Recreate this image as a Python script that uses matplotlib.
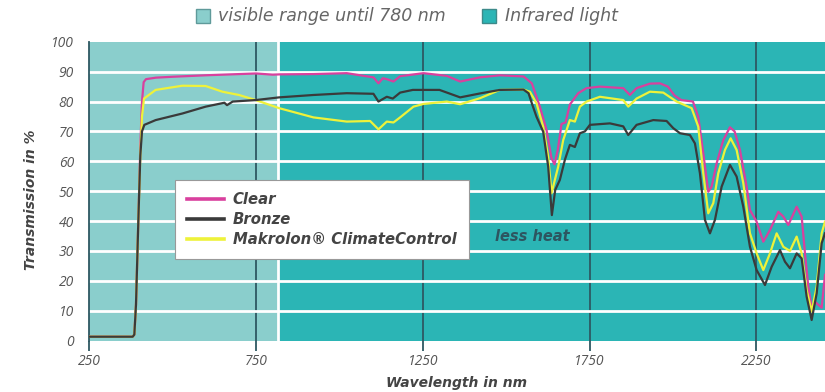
import matplotlib
matplotlib.use("Agg")
import matplotlib.pyplot as plt
from matplotlib.patches import Rectangle
from matplotlib.lines import Line2D

# ---------------- data ----------------
wl_clear = [250, 380, 385, 390, 397, 403, 408, 413, 420, 450, 500, 600, 700, 750, 800, 822,
            922, 1022, 1102, 1117, 1130, 1142, 1162, 1182, 1252, 1322, 1362, 1421, 1481, 1552,
            1577, 1601, 1621, 1636, 1645, 1655, 1666, 1678, 1691, 1716, 1741, 1781, 1851, 1871,
            1891, 1931, 1961, 1985, 2005, 2025, 2060, 2076, 2091, 2106, 2116, 2131, 2151, 2171,
            2185, 2201, 2221, 2231, 2251, 2271, 2291, 2316, 2331, 2346, 2371, 2386, 2396, 2406,
            2416, 2426, 2436, 2446, 2456]
t_clear = [1.3, 1.3, 2, 12, 40, 65, 80, 86.5, 87.5, 88, 88.3, 88.8, 89.2, 89.4, 89, 89.1,
           89.2, 89.5, 88.1, 86.1, 87.8, 87.5, 86.7, 88.5, 89.5, 88.6, 86.7, 88.1, 88.8, 88.4,
           86.1, 78.3, 70.5, 61, 59, 64, 72.5, 73, 79, 82.8, 84.5, 85, 84.5, 82.2,
           84.5, 86, 86.1, 85, 82, 80.5, 80, 74.9, 62.7, 49.8, 51.5, 59.3, 67.1, 71.4,
           70, 63.8, 51.5, 43.7, 39.8, 33.1, 37, 43.1, 41.5, 38.7, 44.8, 41.5, 29.2, 18,
           11, 13, 12, 11, 22]

wl_bronze = [250, 380, 385, 390, 397, 403, 408, 415, 449, 529, 599, 655, 663, 680, 749, 819,
             922, 1022, 1102, 1117, 1142, 1160, 1182, 1220, 1300, 1362, 1421, 1481, 1552, 1567,
             1577, 1591, 1611, 1626, 1637, 1647, 1661, 1676, 1691, 1706, 1721, 1736, 1751, 1811,
             1851, 1866, 1891, 1941, 1981, 2001, 2021, 2051, 2066, 2081, 2096, 2111, 2126, 2146,
             2171, 2191, 2211, 2231, 2251, 2276, 2296, 2321, 2336, 2351, 2371, 2386, 2401, 2416,
             2431, 2446, 2456]
t_bronze = [1.3, 1.3, 2, 12, 40, 62, 70, 72.2, 73.8, 76, 78.3, 79.6, 78.8, 80, 80.5, 81.4,
            82.2, 82.8, 82.6, 80, 81.6, 81, 83, 83.9, 83.9, 81.4, 82.7, 83.9, 84, 82.8,
            79.4, 74.9, 69.9, 58.2, 42, 50.4, 53.8, 60.5, 65.5, 64.8, 69.4, 70, 72.2, 72.7,
            71.7, 68.8, 72.2, 73.8, 73.5, 71.1, 69.4, 68.8, 66, 56, 40.4, 35.9, 40.4, 51.5,
            58.8, 54.9, 44.8, 31.4, 23.6, 18.6, 24.7, 30.3, 26.4, 24.2, 29.2, 27.5, 14.7, 6.9,
            15.8, 32.6, 35.9]

wl_cc = [250, 380, 385, 390, 397, 403, 408, 414, 449, 529, 599, 649, 699, 749, 819,
         922, 1022, 1092, 1117, 1142, 1162, 1182, 1222, 1252, 1322, 1362, 1421, 1481, 1552,
         1571, 1591, 1611, 1626, 1636, 1646, 1656, 1671, 1691, 1706, 1721, 1741, 1781, 1851,
         1866, 1891, 1931, 1971, 2011, 2056, 2076, 2091, 2106, 2121, 2136, 2156, 2173, 2191,
         2211, 2231, 2251, 2271, 2291, 2311, 2331, 2351, 2371, 2386, 2401, 2416, 2431, 2446, 2456]
t_cc = [1.3, 1.3, 2, 12, 40, 62, 75, 81, 83.9, 85.3, 85.2, 83.3, 82.2, 80.5, 77.8,
        74.7, 73.3, 73.5, 70.7, 73.3, 73, 74.7, 78.3, 79.2, 80, 79.1, 81.1, 83.9, 84,
        83.3, 79.4, 71.6, 61.5, 49.3, 53.8, 58.2, 67.1, 73.8, 73.3, 78.3, 80, 81.6, 80.5,
        78.3, 81, 83.3, 83, 80, 77.8, 71.6, 56, 42.6, 46, 56, 63.8, 67.7, 63.8,
        52.7, 35.9, 29.2, 23.6, 29.2, 35.9, 31.4, 30, 34.8, 29.2, 16.9, 9.7, 18, 35.9, 39.8]

series_labels = ["Clear", "Bronze", "Makrolon® ClimateControl"]
x_ticks = [250, 750, 1250, 1750, 2250]
y_ticks = [0, 10, 20, 30, 40, 50, 60, 70, 80, 90, 100]
visible_end = 815

# ---------------- figure ----------------
W, H = 825, 392
fig = plt.figure(figsize=(W / 100, H / 100), dpi=100)
ax = fig.add_axes([89.3 / W, (H - 340.6) / H, (W - 89.3) / W, (340.6 - 41.8) / H])

light = "#8acecc"
teal = "#2bb5b5"
vline = "#2e5862"
clear_c = "#d9409e"
bronze_c = "#3a3a3a"
cc_c = "#eef23a"

xmin, xmax = 250, 2456
ax.set_xlim(xmin, xmax)
ax.set_ylim(0, 100)
ax.set_facecolor(teal)
ax.axvspan(xmin, visible_end, color=light, zorder=0, lw=0)
ax.axvline(visible_end, color="white", lw=2, zorder=0.5)

for x in x_ticks[1:]:
    ax.axvline(x, color=vline, lw=1.3, zorder=1)
for y in y_ticks[1:-1]:
    ax.axhline(y, color="white", lw=2.0, zorder=2)

ax.plot(wl_clear, t_clear, color=clear_c, lw=1.6, zorder=3, label=series_labels[0])
ax.plot(wl_cc, t_cc, color=cc_c, lw=1.6, zorder=4, label=series_labels[2])
ax.plot(wl_bronze, t_bronze, color=bronze_c, lw=1.6, zorder=5, label=series_labels[1])

for s in ["top", "right", "bottom"]:
    ax.spines[s].set_visible(False)
ax.spines["left"].set_color(vline)
ax.spines["left"].set_linewidth(1.3)

ax.set_xticks(x_ticks)
ax.set_xticklabels([str(v) for v in x_ticks])
ax.set_yticks(y_ticks)
ax.set_yticklabels([str(v) for v in y_ticks])
ax.tick_params(axis="x", length=7, width=1.3, color=vline, pad=3,
               labelsize=10, labelcolor="#555555")
ax.tick_params(axis="y", length=0, pad=11, labelsize=10, labelcolor="#555555")
for lab in ax.get_xticklabels() + ax.get_yticklabels():
    lab.set_fontstyle("italic")
    lab.set_family("Open Sans")

fig.text(457 / W, 1 - 383 / H, "Wavelength in nm", ha="center", va="center",
         fontsize=10, fontweight="bold", fontstyle="italic", color="#444444")
fig.text(31 / W, 1 - 200 / H, "Transmission in %", ha="center", va="center",
         rotation=90, fontsize=10, fontweight="bold", fontstyle="italic", color="#444444")

ax.text(1466, 34.7, "less heat", ha="left", va="center", fontsize=10.5,
        fontweight="bold", fontstyle="italic", color="#2d5560", zorder=6)

# legend
handles = [Line2D([], [], color=clear_c, lw=2.6),
           Line2D([], [], color=bronze_c, lw=2.6),
           Line2D([], [], color=cc_c, lw=2.6)]
leg = ax.legend(handles, series_labels, loc="upper left",
                bbox_to_anchor=(175 / W, 1 - 180 / H), bbox_transform=fig.transFigure,
                borderaxespad=0, fancybox=False, framealpha=1, edgecolor="#999999",
                handlelength=2.5, handletextpad=0.6, labelspacing=0.35,
                borderpad=0.8, prop={"size": 10.7, "weight": "bold", "style": "italic"})
leg.get_frame().set_linewidth(0.8)
leg.set_zorder(10)
for t in leg.get_texts():
    t.set_color("#444444")

# top legend
sq = 14
fig.patches.append(Rectangle((196 / W, 1 - 23 / H), sq / W, sq / H, transform=fig.transFigure,
                             facecolor=light, edgecolor="#5f9a9a", lw=1.0))
fig.text(218 / W, 1 - 16 / H, "visible range until 780 nm", ha="left", va="center",
         fontsize=12.5, fontstyle="italic", color="#666666")
fig.patches.append(Rectangle((482 / W, 1 - 23 / H), sq / W, sq / H, transform=fig.transFigure,
                             facecolor=teal, edgecolor="#3d8a8a", lw=1.0))
fig.text(505 / W, 1 - 16 / H, "Infrared light", ha="left", va="center",
         fontsize=12.5, fontstyle="italic", color="#666666")

fig.savefig("out.png", dpi=100)
